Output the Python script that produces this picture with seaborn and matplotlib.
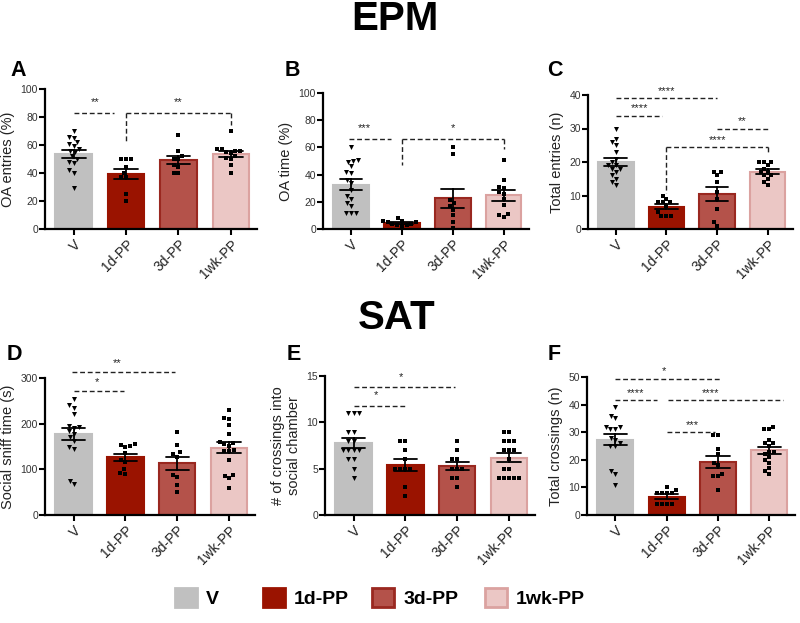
import numpy as np
import pandas as pd
import matplotlib
matplotlib.use("Agg")
import matplotlib.pyplot as plt
import seaborn as sns
from matplotlib.patches import Patch

groups = ["V", "1d-PP", "3d-PP", "1wk-PP"]

# A: OA entries (%)
oa_entries_V = [70, 66, 65, 62, 61, 59, 57, 56, 55, 52, 50, 48, 47, 42, 40, 29]
oa_entries_1d = [50, 50, 50, 44, 40, 37, 37, 25, 20]
oa_entries_3d = [67, 56, 52, 50, 50, 46, 44, 40, 40]
oa_entries_1wk = [70, 57, 57, 56, 56, 55, 54, 52, 51, 50, 46, 40]

# B: OA time (%)
oa_time_V = [60, 51, 50, 49, 46, 42, 41, 36, 34, 29, 24, 22, 19, 17, 12, 12, 12]
oa_time_1d = [8, 6, 6, 5, 5, 4, 4, 3, 3, 2]
oa_time_3d = [60, 55, 21, 19, 17, 14, 10, 5, 1]
oa_time_1wk = [51, 36, 31, 30, 27, 26, 22, 18, 11, 10, 9]

# C: Total entries (n)
entries_V = [30, 27, 26, 25, 23, 21, 20, 19, 19, 18, 18, 17, 16, 15, 14, 13]
entries_1d = [10, 9, 8, 8, 8, 7, 5, 4, 4, 4]
entries_3d = [17, 17, 16, 14, 11, 9, 6, 2, 1]
entries_1wk = [20, 20, 20, 19, 18, 17, 17, 16, 16, 15, 14, 13]

# D: Social sniff time (s)
sniff_V = [255, 240, 235, 222, 195, 192, 190, 183, 178, 170, 162, 150, 145, 75, 67]
sniff_1d = [155, 152, 150, 153, 135, 120, 115, 100, 91, 90]
sniff_3d = [182, 153, 137, 133, 128, 88, 84, 65, 51]
sniff_1wk = [229, 213, 210, 196, 178, 160, 157, 155, 152, 143, 141, 140, 120, 87, 85, 80, 60]

# E: # of crossings into social chamber
social_V = [11, 11, 11, 9, 9, 8, 8, 7, 7, 7, 7, 6, 6, 5, 4]
social_1d = [8, 8, 7, 6, 5, 5, 5, 5, 3, 2]
social_3d = [8, 7, 6, 6, 5, 5, 5, 4, 4, 3]
social_1wk = [9, 9, 8, 8, 8, 7, 7, 7, 6, 5, 5, 4, 4, 4, 4, 4]

# F: Total crossings (n)
crossings_V = [39, 36, 35, 32, 32, 31, 31, 28, 27, 26, 25, 25, 16, 15, 11]
crossings_1d = [10, 9, 8, 8, 8, 8, 4, 4, 4, 4]
crossings_3d = [29, 29, 24, 22, 19, 18, 15, 14, 14, 9]
crossings_1wk = [32, 31, 31, 27, 26, 26, 25, 23, 23, 22, 21, 20, 19, 17, 16, 15]

# significance labels: (x1, x2, y, stars, text x, text y, left leg end, right leg end)
sig_A = [(0, 0.76, 83, "**", 0.41, 91, None, None),
         (1, 3, 83, "**", 2.0, 91, 62, 74)]
sig_B = [(-0.03, 0.78, 66.5, "***", 0.27, 74, None, None),
         (1, 3, 66.5, "*", 2.0, 74, 47, 59)]
sig_C = [(0, 2.0, 39, "****", 1.0, 41.3, None, None),
         (0, 0.92, 33.8, "****", 0.46, 36, None, None),
         (2.0, 3.03, 29.8, "**", 2.5, 32.2, None, None),
         (1, 3, 24.4, "****", 2.0, 26.6, 10.7, 23)]
sig_D = [(-0.02, 1.95, 313, "**", 0.85, 333, None, None),
         (0, 0.97, 271, "*", 0.46, 291, None, None)]
sig_E = [(0, 1.95, 13.85, "*", 0.92, 14.85, None, None),
         (0, 1.03, 11.8, "*", 0.43, 12.9, None, None)]
sig_F = [(0, 2.03, 49.4, "*", 0.95, 52.2, None, None),
         (0, 0.82, 41.7, "****", 0.4, 44.0, None, None),
         (1.03, 3.26, 41.7, "****", 1.85, 44.0, None, None),
         (1.01, 1.95, 30.1, "***", 1.5, 32.6, None, None)]

face = ["#c0c0c0", "#9a1300", "#b4524a", "#ebc7c5"]
edge = ["#c0c0c0", "#9a1300", "#9a2820", "#dba2a0"]

sns.set_theme(style="ticks")
plt.rcParams["font.family"] = ["Liberation Sans", "DejaVu Sans"]

fig = plt.figure(figsize=(8, 6.23), dpi=100)
H = 623.0
W = 800.0


def rect(l, r, top, bottom):
    return [l / W, 1 - bottom / H, (r - l) / W, (bottom - top) / H]


def panel(rc, data, ylabel, yticks, sigs):
    ax = fig.add_axes(rc)
    rows = [(g, v) for g, vals in zip(groups, data) for v in vals]
    df = pd.DataFrame(rows, columns=["group", "value"])
    sns.barplot(data=df, x="group", y="value", hue="group", order=groups,
                hue_order=groups, palette=face, errorbar="se", capsize=0.45,
                err_kws=dict(color="black", linewidth=1.3), width=0.7,
                legend=False, saturation=1, ax=ax)
    for p, ec in zip(ax.patches, edge):
        p.set_edgecolor(ec)
        p.set_linewidth(1.5)
    for ln in ax.lines:
        ln.set_zorder(5)
    dv = df[df.group == "V"]
    do = df[df.group != "V"]
    sns.swarmplot(data=dv, x="group", y="value", order=groups, marker="v",
                  color="black", size=3.6, ax=ax, zorder=4)
    sns.swarmplot(data=do, x="group", y="value", order=groups, marker="s",
                  color="black", size=3.4, ax=ax, zorder=4)
    ax.set_xlim(-0.55, 3.5)
    ax.set_ylim(0, yticks[-1])
    ax.set_yticks(yticks)
    ax.set_xlabel("")
    ax.set_ylabel(ylabel, fontsize=10.5, color="#222222")
    ax.tick_params(axis="y", labelsize=7.5, length=4, width=1.5, colors="black",
                   labelcolor="#333333", pad=1)
    ax.tick_params(axis="x", labelsize=10, length=4, width=1.5, colors="black",
                   labelcolor="#222222", pad=2)
    for lab in ax.get_xticklabels():
        lab.set_rotation(45)
        lab.set_ha("right")
        lab.set_rotation_mode("anchor")
    sns.despine(ax=ax)
    for s in ("left", "bottom"):
        ax.spines[s].set_linewidth(1.6)
        ax.spines[s].set_color("black")
    for x1, x2, y, txt, tx, ty, l1, l2 in sigs:
        kw = dict(color="#222222", lw=1.0, ls=(0, (3.5, 2)), clip_on=False, zorder=6)
        ax.plot([x1, x2], [y, y], **kw)
        if l1 is not None:
            ax.plot([x1, x1], [y, l1], **kw)
        if l2 is not None:
            ax.plot([x2, x2], [y, l2], **kw)
        ax.text(tx, ty, txt, ha="center", va="center", fontsize=8,
                color="#222222", clip_on=False)
    return ax


panel(rect(45, 257, 89, 229), [oa_entries_V, oa_entries_1d, oa_entries_3d, oa_entries_1wk],
      "OA entries (%)", [0, 20, 40, 60, 80, 100], sig_A)
panel(rect(323, 529, 93, 229), [oa_time_V, oa_time_1d, oa_time_3d, oa_time_1wk],
      "OA time (%)", [0, 20, 40, 60, 80, 100], sig_B)
panel(rect(588, 793, 95, 229), [entries_V, entries_1d, entries_3d, entries_1wk],
      "Total entries (n)", [0, 10, 20, 30, 40], sig_C)
panel(rect(45, 255, 378, 515), [sniff_V, sniff_1d, sniff_3d, sniff_1wk],
      "Social sniff time (s)", [0, 100, 200, 300], sig_D)
panel(rect(325, 535, 376, 515), [social_V, social_1d, social_3d, social_1wk],
      "# of crossings into\nsocial chamber", [0, 5, 10, 15], sig_E)
panel(rect(587, 795, 377, 515), [crossings_V, crossings_1d, crossings_3d, crossings_1wk],
      "Total crossings (n)", [0, 10, 20, 30, 40, 50], sig_F)

# titles and panel letters
fig.text(395 / W, 1 - 19 / H, "EPM", ha="center", va="center", fontsize=29,
         fontweight="bold", color="black")
fig.text(397 / W, 1 - 318 / H, "SAT", ha="center", va="center", fontsize=29,
         fontweight="bold", color="black")
for letter, x, y in [("A", 10, 70), ("B", 285, 70), ("C", 547, 70),
                     ("D", 7, 355), ("E", 287, 355), ("F", 548, 355)]:
    fig.text(x / W, 1 - y / H, letter, ha="left", va="center", fontsize=15.5,
             fontweight="bold", color="black")

# legend entries, one per group
legend_x = [175, 263, 372, 485]
for g, f, e, lx in zip(groups, face, edge, legend_x):
    h = Patch(facecolor=f, edgecolor=e, linewidth=2, label=g)
    fig.legend(handles=[h], loc="center left", bbox_to_anchor=(lx / W, 1 - 598 / H),
               frameon=False, prop=dict(weight="bold", size=14),
               handlelength=1.15, handleheight=1.15, handletextpad=0.45,
               borderpad=0, borderaxespad=0, labelcolor="black")

fig.savefig("out.png", dpi=100)
